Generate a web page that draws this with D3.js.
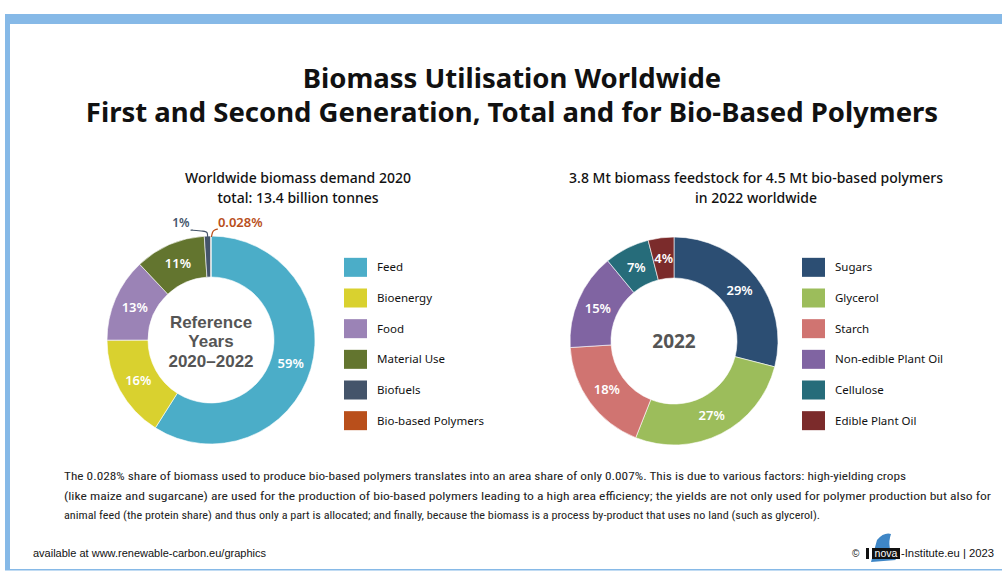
<!DOCTYPE html>
<html><head><meta charset="utf-8">
<script src="https://cdn.jsdelivr.net/npm/d3@7"></script>
<style>
html,body{margin:0;padding:0;background:#fff;}
svg{display:block;}
</style></head>
<body>
<svg id="c" width="1002" height="572"></svg>
<script>
// ---- data ----
const leftCategories = ["Feed","Bioenergy","Food","Material Use","Biofuels","Bio-based Polymers"];
const leftValues = [59,16,13,11,1,0.028];
const leftLabels = ["59%","16%","13%","11%","1%","0.028%"];
const leftColors = ["#4BADC8","#D9D12F","#9B83B6","#63752F","#44546A","#B94F1B"];

const rightCategories = ["Sugars","Glycerol","Starch","Non-edible Plant Oil","Cellulose","Edible Plant Oil"];
const rightValues = [29,27,18,15,7,4];
const rightLabels = ["29%","27%","18%","15%","7%","4%"];
const rightColors = ["#2C4E73","#9CBD5B","#D07471","#8064A2","#266C7A","#7B2B2B"];

const titleLines = ["Biomass Utilisation Worldwide","First and Second Generation, Total and for Bio-Based Polymers"];
const leftSubtitle = ["Worldwide biomass demand 2020","total: 13.4 billion tonnes"];
const rightSubtitle = ["3.8 Mt biomass feedstock for 4.5 Mt bio-based polymers","in 2022 worldwide"];
const leftCenter = ["Reference","Years","2020–2022"];
const rightCenter = ["2022"];
const footnote = [
 "The 0.028% share of biomass used to produce bio-based polymers translates into an area share of only 0.007%. This is due to various factors: high-yielding crops",
 "(like maize and sugarcane) are used for the production of bio-based polymers leading to a high area efficiency; the yields are not only used for polymer production but also for",
 "animal feed (the protein share) and thus only a part is allocated; and finally, because the biomass is a process by-product that uses no land (such as glycerol)."
];
const sourceText = "available at www.renewable-carbon.eu/graphics";

const svg = d3.select("#c");
const FONT = "'Noto Sans', 'Open Sans', sans-serif";

// frame
svg.append("rect").attr("x",5).attr("y",14).attr("width",997).attr("height",10).attr("fill","#86B9E7");
svg.append("rect").attr("x",5).attr("y",14).attr("width",5).attr("height",556).attr("fill","#86B9E7");
svg.append("rect").attr("x",5).attr("y",569).attr("width",997).attr("height",1.5).attr("fill","#86B9E7");

// titles
svg.append("g").selectAll("text").data(titleLines).join("text")
  .attr("x",512).attr("y",(d,i)=>88+i*34)
  .attr("text-anchor","middle").attr("font-family",FONT).attr("font-weight",700)
  .attr("font-size",27.5).attr("fill","#111").text(d=>d);

function subtitle(lines,cx){
  svg.append("g").selectAll("text").data(lines).join("text")
    .attr("x",cx).attr("y",(d,i)=>183+i*20)
    .attr("text-anchor","middle").attr("font-family",FONT).attr("font-weight",500)
    .attr("font-size",14).attr("fill","#111").text(d=>d);
}
subtitle(leftSubtitle,298);
subtitle(rightSubtitle,756);

function donut(values,labels,colors,cx,cy){
  const pie = d3.pie().sort(null).value(d=>d);
  const arcs = pie(values);
  const arc = d3.arc().innerRadius(63).outerRadius(104);
  const labelArc = d3.arc().innerRadius(83).outerRadius(83);
  const g = svg.append("g").attr("transform",`translate(${cx},${cy})`);
  g.selectAll("path").data(arcs).join("path")
    .attr("d",arc).attr("fill",(d,i)=>colors[i])
    .attr("stroke","#fff").attr("stroke-width",0.6);
  return {g,arcs,labelArc};
}

// left donut
const L = donut(leftValues,leftLabels,leftColors,211,340);
L.g.selectAll("text.pl").data(L.arcs.filter(d=>d.value>=5)).join("text")
  .attr("class","pl")
  .attr("transform",d=>`translate(${L.labelArc.centroid(d)})`)
  .attr("text-anchor","middle").attr("dy","0.35em")
  .attr("font-family",FONT).attr("font-weight",600).attr("font-size",13).attr("fill","#fff")
  .text((d,i)=>leftLabels[d.index]);
// leader lines for small slices
{
  const small = L.arcs.filter(d=>d.value<5);
  const pt = (a,r)=>[Math.sin(a)*r,-Math.cos(a)*r];
  small.forEach(d=>{
    const a=(d.startAngle+d.endAngle)/2;
    const p0=pt(a,103);
    let path, tx, anchor;
    if(d.index===4){
      path=[[p0[0],p0[1]],[p0[0],p0[1]-5],[p0[0]-3,p0[1]-6],[p0[0]-17,p0[1]-7]];
      tx=[p0[0]-18,p0[1]-10]; anchor="end";
    } else {
      path=[[p0[0]+0.5,p0[1]],[p0[0]+1.5,p0[1]-5],[p0[0]+3,p0[1]-7],[p0[0]+7,p0[1]-8]];
      tx=[p0[0]+7,p0[1]-10]; anchor="start";
    }
    L.g.append("path").attr("d",d3.line().curve(d3.curveBasis)(path))
      .attr("fill","none").attr("stroke",leftColors[d.index]).attr("stroke-width",1.2);
    L.g.append("text").attr("x",tx[0]).attr("y",tx[1])
      .attr("text-anchor",anchor).attr("font-family",FONT).attr("font-weight",600)
      .attr("font-size",d.index===4?12:13).attr("fill",leftColors[d.index])
      .text(leftLabels[d.index]);
  });
}
L.g.selectAll("text.c").data(leftCenter).join("text").attr("class","c")
  .attr("x",0).attr("y",(d,i)=>-12+i*19.3).attr("text-anchor","middle")
  .attr("font-family","'Liberation Sans',Arial,sans-serif").attr("font-weight",700)
  .attr("font-size",17).attr("fill","#555")
  .text(d=>d);

// right donut
const R = donut(rightValues,rightLabels,rightColors,674,341);
R.g.selectAll("text.pl").data(R.arcs).join("text")
  .attr("class","pl")
  .attr("transform",d=>{const c=R.labelArc.centroid(d);return `translate(${c})`;})
  .attr("text-anchor","middle").attr("dy","0.35em")
  .attr("font-family",FONT).attr("font-weight",600).attr("font-size",13).attr("fill","#fff")
  .text(d=>rightLabels[d.index]);
R.g.selectAll("text.c").data(rightCenter).join("text").attr("class","c")
  .attr("x",0).attr("y",7).attr("text-anchor","middle")
  .attr("font-family",FONT).attr("font-weight",700).attr("font-size",19).attr("fill","#555")
  .text(d=>d);

// legends
function legend(cats,colors,x){
  const y = d3.scaleBand().domain(cats).range([252,436]);
  const g = svg.append("g");
  const row = g.selectAll("g").data(cats).join("g")
    .attr("transform",d=>`translate(${x},${y(d)+y.bandwidth()/2})`);
  row.append("rect").attr("x",0).attr("y",-9.5).attr("width",23).attr("height",19)
    .attr("fill",(d,i)=>colors[i]);
  row.append("text").attr("x",33).attr("y",0).attr("dy","0.35em")
    .attr("font-family",FONT).attr("font-size",11.5).attr("fill","#111").text(d=>d);
}
legend(leftCategories,leftColors,344);
legend(rightCategories,rightColors,802);

// footnote
svg.append("g").selectAll("text").data(footnote).join("text")
  .attr("x",64).attr("y",(d,i)=>480+i*19.5)
  .attr("font-family","'Liberation Sans Narrow','Roboto Condensed','DejaVu Sans Condensed',sans-serif")
  .attr("font-size",11.5).attr("fill","#222")
  .attr("textLength",(d,i)=>[842,927,756][i]).attr("lengthAdjust","spacingAndGlyphs")
  .text(d=>d);

// source
svg.append("text").attr("x",33).attr("y",557)
  .attr("font-family","'Liberation Sans',Arial,sans-serif").attr("font-size",11)
  .attr("fill","#111").text(sourceText);

// copyright with logo
const cg = svg.append("g");
cg.append("text").attr("x",852).attr("y",557).attr("font-family","'Liberation Sans',Arial,sans-serif")
  .attr("font-size",10).attr("fill","#111").text("©");
cg.append("rect").attr("x",866).attr("y",548).attr("width",3).attr("height",11).attr("fill","#111");
cg.append("path").attr("d","M871,562 L877,540 Q884,532 891,534 Q886,548 896,560 Z").attr("fill","#3E86C6");
cg.append("rect").attr("x",872).attr("y",548).attr("width",28).attr("height",11).attr("fill","#111");
cg.append("text").attr("x",886).attr("y",557).attr("text-anchor","middle")
  .attr("font-family","'Liberation Sans',Arial,sans-serif").attr("font-size",10.5).attr("fill","#fff").text("nova");
cg.append("text").attr("x",901).attr("y",557)
  .attr("font-family","'Liberation Sans',Arial,sans-serif").attr("font-size",11)
  .attr("textLength",93).attr("lengthAdjust","spacingAndGlyphs")
  .attr("fill","#111").text("-Institute.eu | 2023");
</script>
</body></html>
